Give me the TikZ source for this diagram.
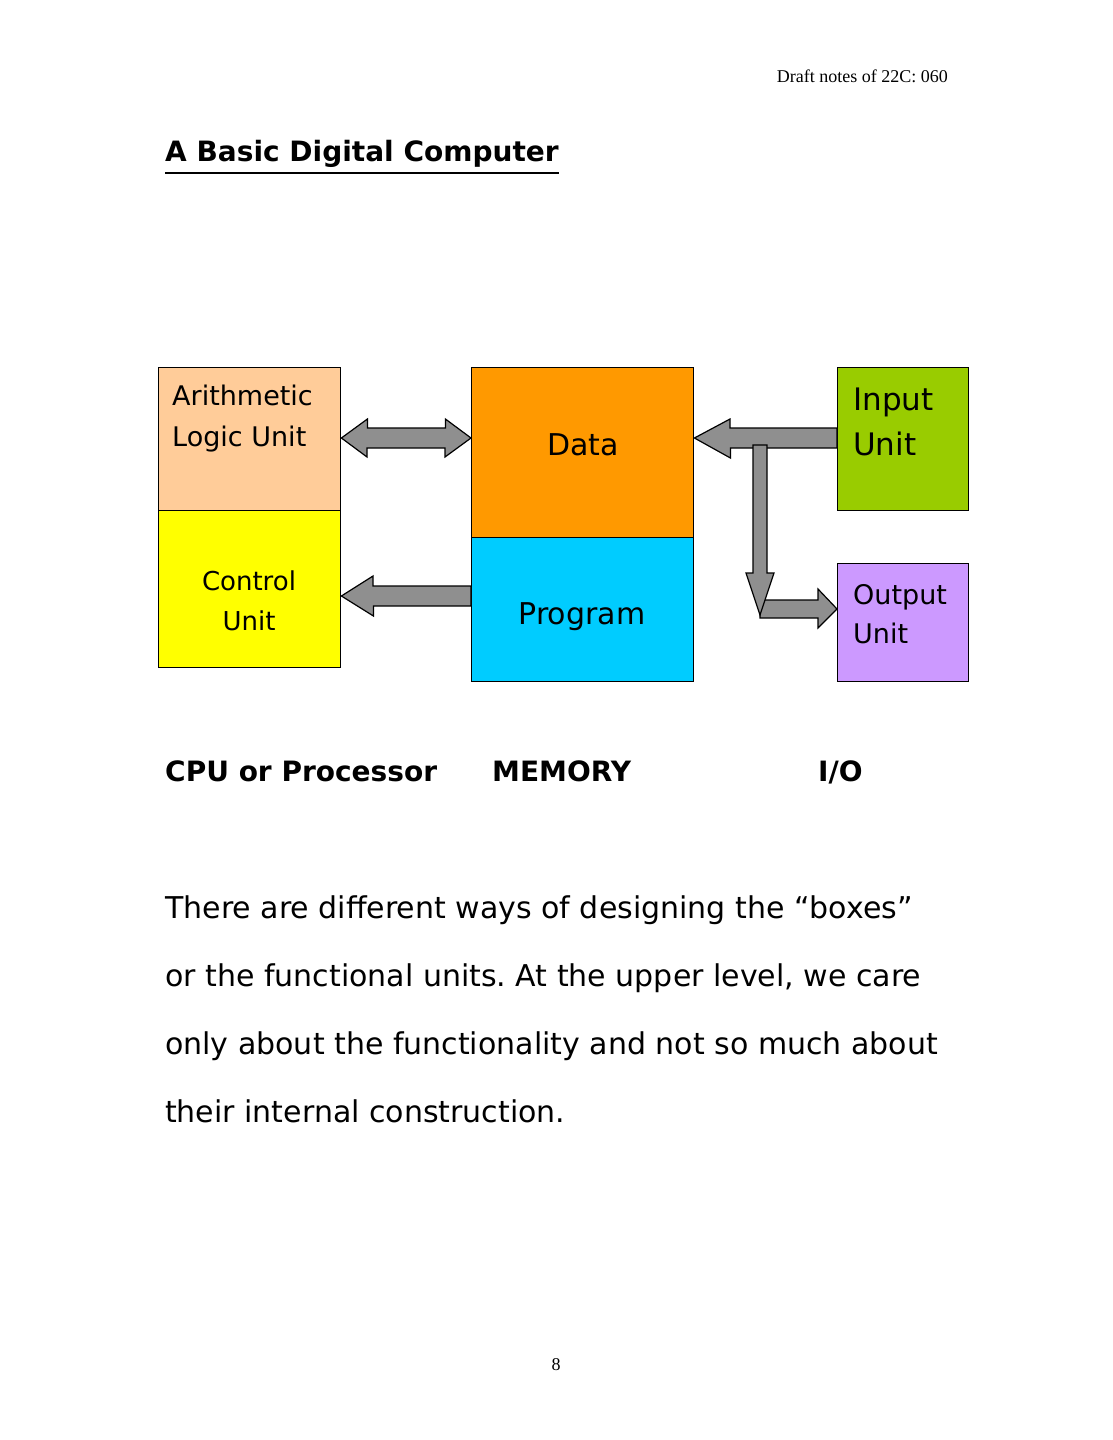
\documentclass[tikz,border=0pt]{standalone}
\usepackage{fontspec}
\setmainfont{DejaVu Sans}
\newfontfamily\headfont{Liberation Serif}
\usetikzlibrary{calc}
\frenchspacing

\definecolor{alucol}{HTML}{FFCC99}
\definecolor{ctrlcol}{HTML}{FFFF00}
\definecolor{datacol}{HTML}{FF9900}
\definecolor{progcol}{HTML}{00CCFF}
\definecolor{inpcol}{HTML}{99CC00}
\definecolor{outcol}{HTML}{CC99FF}
\definecolor{arrowgray}{HTML}{8F8F8F}

\begin{document}
\begin{tikzpicture}[x=1pt,y=-1pt,
    unit/.style={draw, line width=1.4pt, anchor=north west, inner sep=0pt},
    blk/.style={draw, line width=1.2pt, fill=arrowgray, line join=miter},
    txt/.style={anchor=base west, inner sep=0pt},
    boxtxt/.style={txt, font=\fontsize{#1}{#1}\selectfont},
    bold/.style={txt, font=\fontsize{28}{28}\selectfont\bfseries}]
    \useasboundingbox (0,0) rectangle (1113,1440);

    % header and title
    \node[anchor=base east, inner sep=0pt, font=\fontsize{18}{18}\headfont] (head) at (948,82) {Draft notes of 22C: 060};
    \node[bold] (title) at (165,161) {A Basic Digital Computer};
    \draw[line width=2.4pt] ([yshift=-12pt]title.base west) -- ([yshift=-12pt]title.base east);

    % the units
    \node[unit, fill=alucol,  minimum width=182, minimum height=143] (alu)  at (158,367) {};
    \node[unit, fill=ctrlcol, minimum width=182, minimum height=157] (ctrl) at (158,510) {};
    \node[unit, fill=datacol, minimum width=222, minimum height=170] (data) at (471,367) {};
    \node[unit, fill=progcol, minimum width=222, minimum height=144] (prog) at (471,537) {};
    \node[unit, fill=inpcol,  minimum width=131, minimum height=143] (inp)  at (837,367) {};
    \node[unit, fill=outcol,  minimum width=131, minimum height=118] (out)  at (837,563) {};

    \node[boxtxt=27] (alu1) at (172,405) {Arithmetic};
    \node[boxtxt=27] (alu2) at (172,446) {Logic Unit};
    \node[boxtxt=26, anchor=base] (ctrl1) at (249,590) {Control};
    \node[boxtxt=26, anchor=base] (ctrl2) at (249,630) {Unit};
    \node[boxtxt=30, anchor=base] (data1) at (583,455) {Data};
    \node[boxtxt=30, anchor=base] (prog1) at (582,624) {Program};
    \node[boxtxt=31] (inp1) at (853,410) {Input};
    \node[boxtxt=31] (inp2) at (853,455) {Unit};
    \node[boxtxt=27] (out1) at (853,604) {Output};
    \node[boxtxt=27] (out2) at (853,643) {Unit};

    % block arrows
    \draw[blk] (alu.east |- 0,438) -- ++(26,-19) -- ++(0,9) -- ++(78,0) -- ++(0,-9)
        -- (data.west |- 0,438) -- ++(-26,19) -- ++(0,-9) -- ++(-78,0) -- ++(0,9) -- cycle;
    \draw[blk] (prog.west |- 0,586) -- ++(-98,0) -- ++(0,-10) -- (ctrl.east |- 0,596)
        -- ++(32,20) -- ++(0,-10) -- (prog.west |- 0,606) -- cycle;
    \draw[blk] (inp.west |- 0,428) -- ++(-107,0) -- ++(0,-9) -- (data.east |- 0,438)
        -- ++(36,20) -- ++(0,-10) -- (inp.west |- 0,448) -- cycle;
    \coordinate (fork) at (760,445);
    \coordinate (bend) at (760,615);
    \draw[blk] ($(bend)+(0,-15)$) -- ++(58,0) -- ++(0,-11) -- (out.west |- 0,609)
        -- ++(-19,19) -- ++(0,-10) -- ($(bend)+(0,3)$) -- cycle;
    \draw[blk] ($(fork)+(-7,0)$) -- ($(bend)+(-7,-42)$) -- ++(-7,0) -- (bend)
        -- ($(bend)+(14,-42)$) -- ++(-7,0) -- ($(fork)+(7,0)$) -- cycle;

    % what the columns are
    \node[bold] (cpu) at (165,781) {CPU or Processor};
    \node[bold] (mem) at (492,781) {MEMORY};
    \node[bold] (io)  at (818,781) {I/O};

    % remark
    \node[boxtxt=30] (par1) at (165,918)  {There are different ways of designing the “boxes”};
    \node[boxtxt=30] (par2) at (165,986)  {or the functional units. At the upper level, we care};
    \node[boxtxt=30] (par3) at (165,1054) {only about the functionality and not so much about};
    \node[boxtxt=30] (par4) at (165,1122) {their internal construction.};

    \node[anchor=base, inner sep=0pt, font=\fontsize{18}{18}\headfont] (page) at (556,1370) {8};
\end{tikzpicture}
\end{document}
